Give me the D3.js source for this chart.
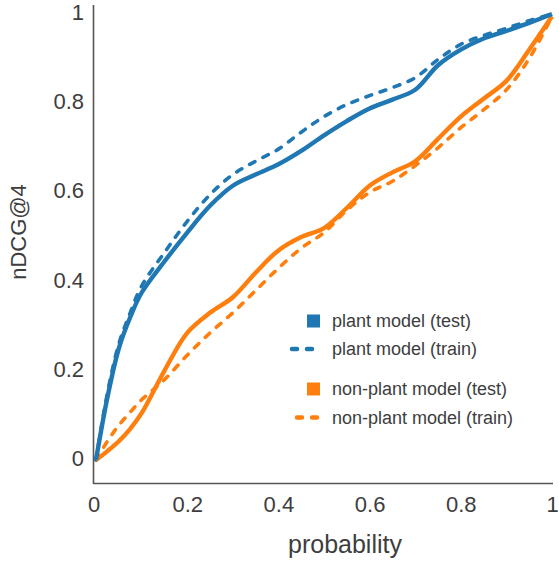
<!DOCTYPE html>
<html>
<head>
<meta charset="utf-8">
<script src="https://cdn.jsdelivr.net/npm/d3@7"></script>
<style>
  html, body { margin: 0; padding: 0; background: #fff; }
  svg { display: block; }
  text { font-family: "Liberation Sans", Arial, Helvetica, sans-serif; }
</style>
</head>
<body>
<svg id="chart" width="559" height="565"></svg>
<script>
// ---- data ----
const xValues = [0, 0.025, 0.05, 0.075, 0.1, 0.15, 0.2, 0.25, 0.3, 0.35, 0.4, 0.45, 0.5, 0.55, 0.6, 0.65, 0.7, 0.75, 0.8, 0.85, 0.9, 0.95, 1];
const plantTest  = [0, 0.14, 0.25, 0.32, 0.375, 0.445, 0.51, 0.57, 0.615, 0.64, 0.663, 0.693, 0.728, 0.76, 0.788, 0.808, 0.83, 0.885, 0.92, 0.945, 0.962, 0.98, 1];
const plantTrain = [0, 0.15, 0.26, 0.33, 0.39, 0.465, 0.535, 0.595, 0.64, 0.67, 0.697, 0.735, 0.77, 0.797, 0.817, 0.835, 0.857, 0.898, 0.932, 0.952, 0.968, 0.985, 1];
const nonPlantTest  = [0, 0.02, 0.042, 0.07, 0.105, 0.2, 0.285, 0.33, 0.365, 0.42, 0.47, 0.5, 0.52, 0.565, 0.615, 0.645, 0.67, 0.72, 0.77, 0.81, 0.85, 0.92, 0.995];
const nonPlantTrain = [0, 0.042, 0.078, 0.107, 0.135, 0.18, 0.235, 0.285, 0.33, 0.38, 0.43, 0.475, 0.51, 0.56, 0.6, 0.625, 0.66, 0.7, 0.745, 0.785, 0.83, 0.9, 0.995];
const tickValues = [0, 0.2, 0.4, 0.6, 0.8, 1];
const tickLabels = ["0", "0.2", "0.4", "0.6", "0.8", "1"];
const seriesNames = ["plant model (test)", "plant model (train)", "non-plant model (test)", "non-plant model (train)"];
const seriesColors = ["#1f77b4", "#1f77b4", "#ff7f0e", "#ff7f0e"];
const xTitle = "probability";
const yTitle = "nDCG@4";

// ---- chart ----
const svg = d3.select("#chart");
const x = d3.scaleLinear().domain([0, 1]).range([96, 552]);
const y = d3.scaleLinear().domain([0, 1]).range([460, 14]);

const axisColor = "#555";
const textColor = "#3d3d3d";

// axis lines
svg.append("line").attr("x1", 93.5).attr("x2", 93.5).attr("y1", 5).attr("y2", 484)
  .attr("stroke", axisColor).attr("stroke-width", 1.6);
svg.append("line").attr("x1", 93.5).attr("x2", 553).attr("y1", 483.5).attr("y2", 483.5)
  .attr("stroke", axisColor).attr("stroke-width", 1.6);

// y ticks
const yAxis = d3.axisLeft(y).tickValues(tickValues)
  .tickFormat((d, i) => tickLabels[i]).tickSize(0).tickPadding(0);
const gy = svg.append("g").attr("transform", "translate(84,-1.5)").call(yAxis);
gy.select(".domain").remove();
gy.selectAll("text").attr("font-size", 22).attr("fill", textColor)
  .style("font-family", '"Liberation Sans", Arial, sans-serif');

// x ticks
const xAxis = d3.axisBottom(x).tickValues(tickValues)
  .tickFormat((d, i) => tickLabels[i]).tickSize(0).tickPadding(0);
const gx = svg.append("g").attr("transform", "translate(0,496)").call(xAxis);
gx.select(".domain").remove();
gx.selectAll("text").attr("font-size", 22).attr("fill", textColor)
  .style("font-family", '"Liberation Sans", Arial, sans-serif');
gx.selectAll(".tick").filter(d => d === 0).attr("transform", `translate(${x(0) - 2},0)`);

// axis titles
svg.append("text").attr("x", 345).attr("y", 553).attr("text-anchor", "middle")
  .attr("font-size", 25).attr("fill", textColor).text(xTitle);
svg.append("text").attr("transform", "translate(26,232) rotate(-90)").attr("text-anchor", "middle")
  .attr("font-size", 22).attr("fill", textColor).text(yTitle);

// lines
const line = d3.line().x(d => x(d[0])).y(d => y(d[1])).curve(d3.curveCatmullRom.alpha(0.5));
const series = [
  { vals: nonPlantTrain, color: seriesColors[3], dashed: true },
  { vals: plantTrain, color: seriesColors[1], dashed: true },
  { vals: nonPlantTest, color: seriesColors[2], dashed: false },
  { vals: plantTest, color: seriesColors[0], dashed: false }
];
series.forEach(s => {
  svg.append("path")
    .datum(xValues.map((xv, i) => [xv, s.vals[i]]))
    .attr("d", line)
    .attr("fill", "none")
    .attr("stroke", s.color)
    .attr("stroke-width", s.dashed ? 3.6 : 4.4)
    .attr("stroke-linecap", s.dashed ? "round" : "butt")
    .attr("stroke-linejoin", "round")
    .attr("stroke-dasharray", s.dashed ? "6,9" : null);
});

// legend
const legendRows = [321, 349, 389, 417.5];
const lg = svg.append("g");
seriesNames.forEach((name, i) => {
  const cy = legendRows[i];
  const dashed = i % 2 === 1;
  if (dashed) {
    const x0 = i === 1 ? 292 : 297;
    lg.append("line").attr("x1", x0).attr("x2", 320).attr("y1", cy).attr("y2", cy)
      .attr("stroke", seriesColors[i]).attr("stroke-width", 4.5)
      .attr("stroke-linecap", "round").attr("stroke-dasharray", "5,10");
  } else {
    lg.append("rect").attr("x", 307).attr("y", cy - 6.5).attr("width", 13).attr("height", 13)
      .attr("fill", seriesColors[i]);
  }
  lg.append("text").attr("x", 332).attr("y", cy).attr("dy", "0.35em")
    .attr("font-size", 18).attr("fill", textColor).text(name);
});
</script>
</body>
</html>
